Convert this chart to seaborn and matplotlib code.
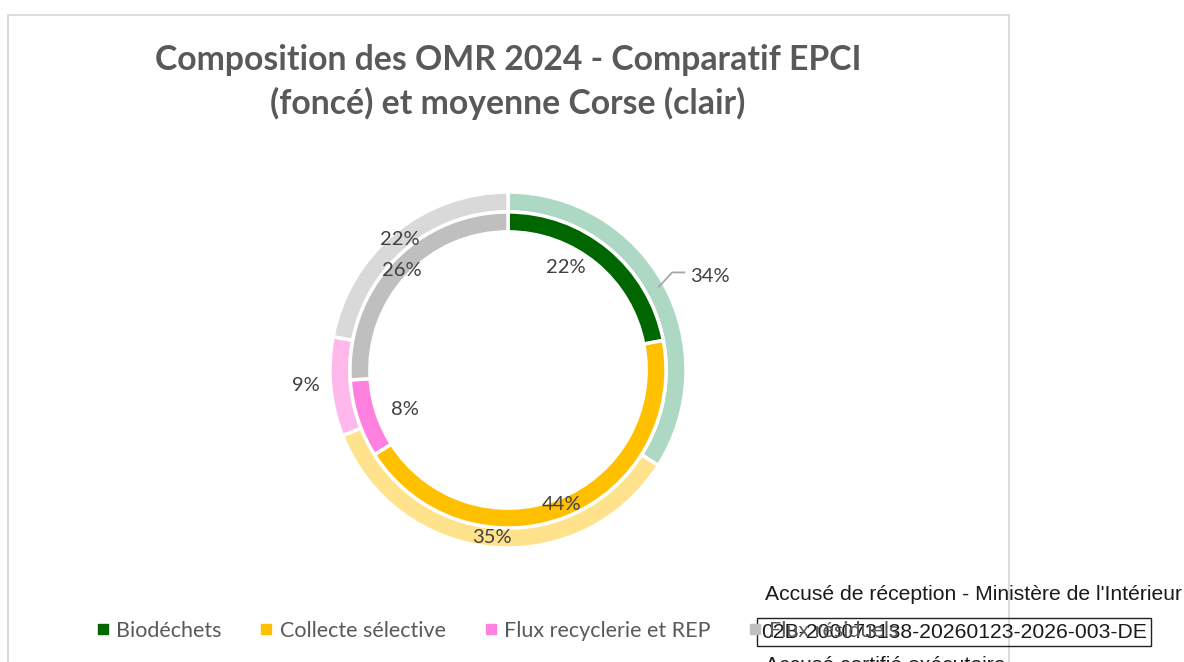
import numpy as np
import matplotlib
matplotlib.use('Agg')
import matplotlib.pyplot as plt
from matplotlib.lines import Line2D
from matplotlib.patches import Rectangle
import seaborn as sns

categories = ['Biodéchets', 'Collecte sélective', 'Flux recyclerie et REP', 'Flux résiduels']
epci = [22, 44, 8, 26]      # foncé, anneau intérieur
corse = [34, 35, 9, 22]     # clair, anneau extérieur
colors_dark = ['#006600', '#FFC000', '#FF80DF', '#BFBFBF']
colors_light = ['#ADD8C4', '#FFE38C', '#FFB8EC', '#D9D9D9']
title_lines = ['Composition des OMR 2024 - Comparatif EPCI', '(foncé) et moyenne Corse (clair)']

# etiquettes deplacees a la main dans Excel : (rayon, decalage angulaire en degres)
lab_inner = [(0.66, -10), (0.815, 0), (0.62, -3), (0.82, 0)]
lab_outer = [(1.25, 4), (0.945, 0), (1.14, 1), (0.95, 0)]

sns.set_theme(style='white')
plt.rcParams['font.family'] = ['Lato', 'DejaVu Sans']

W, H = 1184, 662
fig = plt.figure(figsize=(W / 100, H / 100), dpi=100)
fig.patch.set_facecolor('white')

# cadre du graphique
fig.add_artist(Rectangle((8 / W, -40 / H), 1001 / W, (662 + 40 - 15) / H,
                         transform=fig.transFigure, fill=False,
                         edgecolor='#D9D9D9', linewidth=1.3))

cx, cy, R = 508, 370, 178
half = 200
ax = fig.add_axes([(cx - half) / W, (H - cy - half) / H, 2 * half / W, 2 * half / H])

ring = 0.112
wp = dict(width=ring, edgecolor='white', linewidth=2.5)
ax.pie(corse, radius=1.0, colors=colors_light, startangle=90, counterclock=False, wedgeprops=wp)
ax.pie(epci, radius=1.0 - ring, colors=colors_dark, startangle=90, counterclock=False, wedgeprops=wp)

lim = half / R
ax.set_xlim(-lim, lim)
ax.set_ylim(-lim, lim)
ax.set_aspect('equal')
ax.axis('off')


def mid_angles(vals):
    c = np.cumsum(vals)
    return 360 * (c - np.array(vals) / 2) / sum(vals)


lab_kw = dict(ha='center', va='center', fontsize=14.5, color='#404040')
for vals, offs in [(epci, lab_inner), (corse, lab_outer)]:
    for v, a, (r, da) in zip(vals, mid_angles(vals), offs):
        t = np.radians(a + da)
        ax.text(r * np.sin(t), r * np.cos(t), f'{v}%', **lab_kw)

# ligne de rappel pour 34 %
t0 = np.radians(mid_angles(corse)[0])
x0, y0 = 0.963 * np.sin(t0), 0.963 * np.cos(t0)
x1, y1 = x0 + 14 / R, y0 + 15 / R
ax.plot([x0, x1, x1 + 13 / R], [y0, y1, y1], color='#A6A6A6', lw=1.3,
        solid_capstyle='butt', clip_on=False)

for i, line in enumerate(title_lines):
    fig.text(cx / W, 1 - (60 + 43 * i) / H, line, ha='center', va='center',
             fontsize=24.3, weight='bold', color='#595959')

handles = [Line2D([], [], marker='s', linestyle='', markersize=6.5,
                  markerfacecolor=c, markeredgecolor=c) for c in colors_dark]
fig.legend(handles, categories, loc='center', bbox_to_anchor=(498 / W, 1 - 631 / H),
           ncol=4, frameon=False, fontsize=15.5, handlelength=0.45,
           handletextpad=0.4, columnspacing=1.85, labelcolor='#595959')

# tampon de l'accuse de reception
stamp = dict(family=['Liberation Sans', 'DejaVu Sans'], color='#1A1A1A', fontsize=15.2)
fig.text(765 / W, 1 - 594 / H, "Accusé de réception - Ministère de l'Intérieur",
         ha='left', va='center', **stamp)
fig.text(954 / W, 1 - 632 / H, '02B-200073138-20260123-2026-003-DE',
         ha='center', va='center',
         bbox=dict(boxstyle='square,pad=0.2', fc='none', ec='#222222', lw=1), **stamp)
fig.text(765 / W, 1 - 656 / H, 'Accusé certifié exécutoire', ha='left', va='top', **stamp)

fig.savefig('out.png', dpi=100)
